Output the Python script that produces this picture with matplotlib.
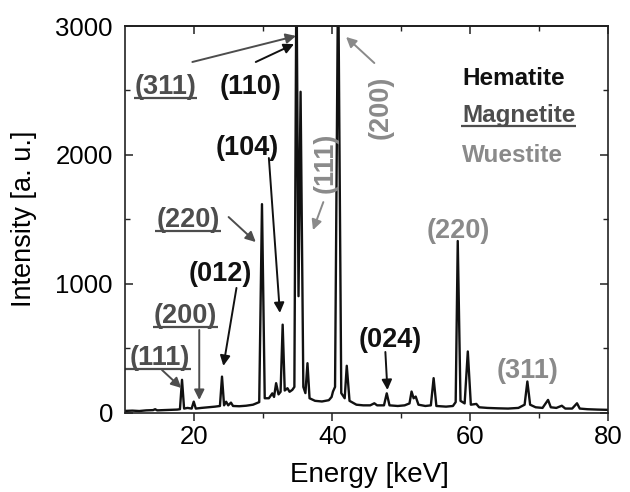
import matplotlib
matplotlib.use('Agg')
import matplotlib.pyplot as plt

plt.rcParams['font.family'] = ['Liberation Sans', 'DejaVu Sans']

# ---- spectrum (energy keV, intensity a.u.) ----
energy = [10.0, 11.0, 12.0, 13.0, 14.0, 14.3, 14.6, 15.5, 16.5, 17.5, 17.9, 18.2, 18.5,
          19.0, 19.6, 19.9, 20.2, 21.0, 22.0, 23.0, 23.7, 24.0, 24.3, 24.6, 24.9, 25.3,
          25.6, 26.5, 27.5, 28.5, 29.4, 29.8, 30.2, 30.8, 31.3, 31.55, 31.85, 32.2, 32.5,
          32.8, 33.1, 33.5, 33.8, 34.2, 34.5, 34.8, 35.1, 35.4, 35.8, 36.1, 36.4, 36.7,
          37.5, 38.5, 39.5, 39.9, 40.1, 40.4, 40.85, 41.3, 41.8, 42.1, 42.5, 43.5, 44.5,
          45.5, 46.1, 46.5, 47.5, 47.9, 48.3, 49.5, 50.5, 51.2, 51.5, 51.8, 52.1, 52.5,
          53.5, 54.3, 54.7, 55.1, 56.5, 57.5, 57.9, 58.2, 58.6, 59.2, 59.66, 60.1, 60.9,
          61.3, 62.5, 64.0, 65.5, 67.0, 67.9, 68.3, 68.7, 69.5, 70.5, 71.3, 71.7, 72.5,
          73.3, 73.8, 74.8, 75.5, 75.9, 77.0, 78.5, 80.0]
intensity = [14, 16, 13, 18, 20, 27, 18, 20, 22, 24, 27, 255, 32,
             37, 32, 86, 32, 37, 42, 47, 52, 280, 57, 85, 57, 78,
             52, 50, 54, 62, 82, 1618, 112, 112, 150, 122, 229, 142, 162,
             683, 172, 190, 162, 177, 200, 3500, 904, 2490, 200, 152, 384, 112,
             92, 87, 97, 122, 164, 200, 3500, 152, 112, 364, 92, 62, 57,
             57, 73, 57, 57, 150, 57, 52, 57, 72, 164, 112, 125, 62,
             52, 57, 268, 52, 47, 52, 82, 1332, 92, 72, 475, 62, 68,
             42, 37, 34, 32, 37, 62, 242, 62, 42, 37, 99, 42, 37,
             54, 32, 32, 73, 32, 27, 24, 22]

x_major = [20, 40, 60, 80]
x_minor = [30, 50, 70]
y_major = [0, 1000, 2000, 3000]
y_minor = [500, 1500, 2500]

phases = ['Hematite', 'Magnetite', 'Wuestite']
phase_colors = {'Hematite': '#111111', 'Magnetite': '#4d4d4d', 'Wuestite': '#8a8a8a'}

# label: (text, phase, x, y, rotation, underline, arrow_tail, arrow_head)
labels = [
    ('(311)', 'Magnetite', 15.8, 2472, 0, True, (19.7, 2721), (34.74, 2923)),
    ('(110)', 'Hematite', 28.1, 2472, 0, False, (28.9, 2721), (34.45, 2860)),
    ('(104)', 'Hematite', 27.6, 1999, 0, False, (30.8, 1976), (32.4, 774)),
    ('(111)', 'Wuestite', 39.1, 1937, 90, False, (38.7, 1634), (37.2, 1417)),
    ('(200)', 'Wuestite', 47.0, 2372, 90, False, (46.1, 2713), (42.0, 2915)),
    ('(220)', 'Magnetite', 19.05, 1441, 0, True, (24.96, 1518), (28.9, 1324)),
    ('(012)', 'Hematite', 23.7, 1022, 0, False, (26.1, 968), (24.2, 363)),
    ('(200)', 'Magnetite', 18.7, 696, 0, True, (20.7, 642), (20.7, 99)),
    ('(111)', 'Magnetite', 15.0, 370, 0, True, (15.3, 331), (18.1, 192)),
    ('(024)', 'Hematite', 48.4, 510, 0, False, (47.7, 471), (48.0, 176)),
    ('(220)', 'Wuestite', 58.25, 1355, 0, False, None, None),
    ('(311)', 'Wuestite', 68.3, 269, 0, False, None, None),
]
legend_x = 58.8
legend_y = [2542, 2255, 1945]

fig = plt.figure(figsize=(6.3, 4.92), dpi=100)
ax = fig.add_axes([0.1992, 0.1612, 0.7659, 0.7859])

ax.plot(energy, intensity, color='#111111', lw=1.7, solid_joinstyle='round')
ax.set_xlim(10, 80)
ax.set_ylim(0, 3000)
ax.set_xticks(x_major)
ax.set_xticks(x_minor, minor=True)
ax.set_yticks(y_major)
ax.set_yticks(y_minor, minor=True)

for s in ax.spines.values():
    s.set_linewidth(1.2)
    s.set_color('#222222')

ax.tick_params(axis='x', which='major', direction='out', length=6, width=1.1,
               labelsize=18.5, pad=3, color='#222222')
ax.tick_params(axis='x', which='minor', direction='out', length=3.5, width=1.0, color='#222222')
ax.tick_params(axis='y', which='major', direction='in', length=6, width=1.1,
               labelsize=18.5, pad=9, right=True, color='#222222')
ax.tick_params(axis='y', which='minor', direction='in', length=3.5, width=1.0,
               right=True, color='#222222')
secx = ax.secondary_xaxis('top')
secx.set_xticks(x_major)
secx.set_xticks(x_minor, minor=True)
secx.tick_params(which='major', direction='in', length=6, width=1.1, labeltop=False, color='#222222')
secx.tick_params(which='minor', direction='in', length=3.5, width=1.0, labeltop=False, color='#222222')
secx.spines['top'].set_linewidth(1.2)

fig.text(369 / 630, 1 - 475 / 492, 'Energy [keV]', ha='center', va='center', fontsize=20)
fig.text(24 / 630, 1 - 219 / 492, 'Intensity [a. u.]', ha='center', va='center',
         rotation=90, fontsize=19.5)

texts = []
for (txt, ph, x, y, rot, ul, tail, head) in labels:
    c = phase_colors[ph]
    if rot == 0:
        t = ax.text(x, y, txt, color=c, fontsize=19.5, fontweight='bold', ha='center', va='baseline')
    else:
        t = ax.text(x, y, txt, color=c, fontsize=19.5, fontweight='bold', ha='center', va='center',
                    rotation=rot)
    texts.append((t, ul, c, x, y, txt, ph))
    if tail is not None:
        ax.annotate('', xy=head, xytext=tail,
                    arrowprops=dict(arrowstyle='-|>', color=c, lw=1.4, mutation_scale=15,
                                    shrinkA=0, shrinkB=0))

leg_texts = []
for ph, ly in zip(phases, legend_y):
    t = ax.text(legend_x, ly, ph, color=phase_colors[ph], fontsize=17.5, fontweight='bold',
                ha='left', va='baseline')
    leg_texts.append((t, ph == 'Magnetite', phase_colors[ph], legend_x, ly, ph, ph))

fig.canvas.draw()
renderer = fig.canvas.get_renderer()
inv = ax.transData.inverted()
for (t, ul, c, x, y, txt, ph) in texts + leg_texts:
    if not ul:
        continue
    bb = t.get_window_extent(renderer)
    base_disp = ax.transData.transform((x, y))[1]
    yu = base_disp - 4
    x0, x1 = bb.x0 - 1, bb.x1 + 1
    if txt == '(111)' and ph == 'Magnetite':
        x0 = ax.transData.transform((10, 0))[0]
    p0 = inv.transform((x0, yu))
    p1 = inv.transform((x1, yu))
    ax.plot([p0[0], p1[0]], [p0[1], p1[1]], color=c, lw=1.6, clip_on=False,
            solid_capstyle='butt')

fig.savefig('out.png', dpi=100)
